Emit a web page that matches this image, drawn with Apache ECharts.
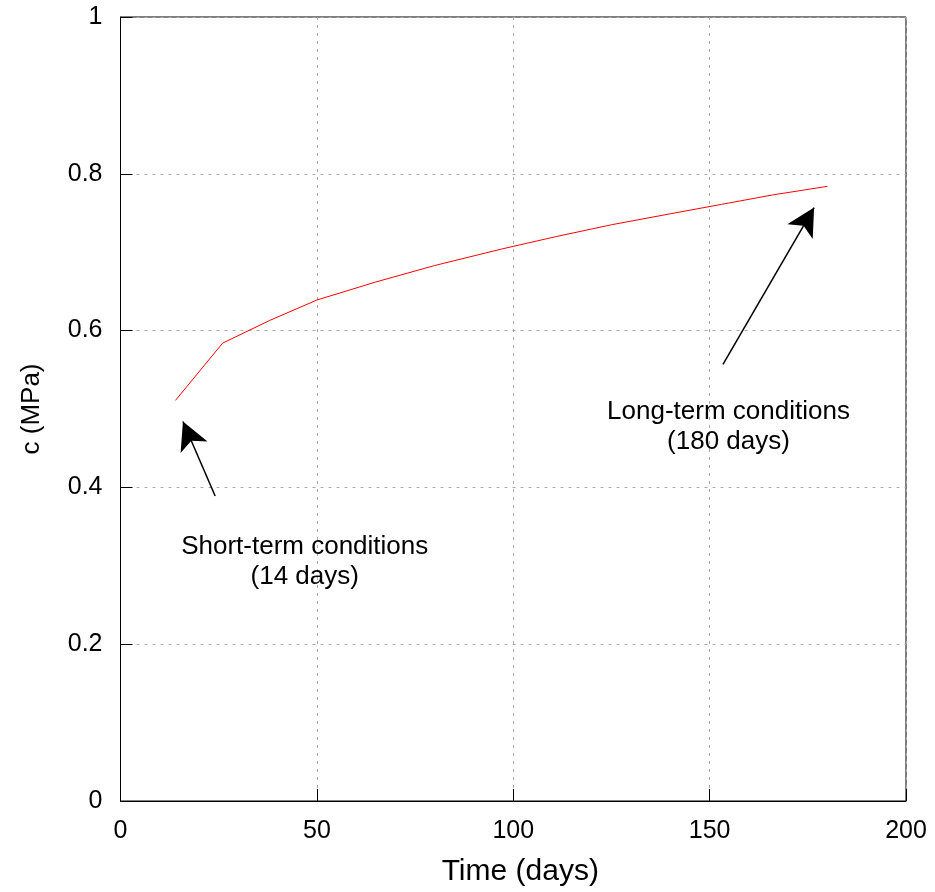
<!DOCTYPE html>
<html>
<head>
<meta charset="utf-8">
<script src="https://cdn.jsdelivr.net/npm/echarts@6/dist/echarts.min.js"></script>
<style>html,body{margin:0;padding:0;background:#fff}#c{width:935px;height:892px}</style>
</head>
<body>
<div id="c"></div>
<script>
const days = [14, 26, 38, 50, 65, 80, 97, 111, 125, 140, 153, 166, 180];
const cohesion = [0.511, 0.584, 0.613, 0.639, 0.662, 0.683, 0.704, 0.720, 0.735, 0.749, 0.761, 0.773, 0.784];
const xTicks = [0, 50, 100, 150, 200];
const yTicks = [0, 0.2, 0.4, 0.6, 0.8, 1];
const shortArrow = [[24.1, 0.389], [15.9, 0.484]];
const longArrow = [[153.4, 0.557], [176.6, 0.757]];
const shortText = ['Short-term conditions', '(14 days)'];
const longText = ['Long-term conditions', '(180 days)'];
const shortTextPos = [46.9, 0.305];
const longTextPos = [154.8, 0.477];

const font = '"Liberation Sans", Arial, sans-serif';
const chart = echarts.init(document.getElementById('c'), null, {renderer: 'canvas'});
const data = days.map((d, i) => [d, cohesion[i]]);
const gridLine = {show: true, lineStyle: {color: '#aaaaaa', type: [3, 5], width: 1}};
chart.setOption({
  animation: false,
  grid: {left: 120.5, right: 29, top: 17, bottom: 90, show: true, borderColor: '#000', borderWidth: 1},
  xAxis: {
    type: 'value', min: xTicks[0], max: xTicks[xTicks.length - 1], interval: 50,
    name: 'Time (days)', nameLocation: 'middle', nameGap: 56,
    nameTextStyle: {fontFamily: font, fontSize: 30, color: '#000', padding: [0, 0, 0, 14]},
    axisLine: {lineStyle: {color: '#000', width: 1}},
    axisTick: {show: true, inside: true, length: 12, lineStyle: {color: '#000'}},
    axisLabel: {fontFamily: font, fontSize: 25, color: '#000', margin: 18},
    splitLine: gridLine
  },
  yAxis: {
    type: 'value', min: yTicks[0], max: yTicks[yTicks.length - 1], interval: 0.2,
    name: 'c (MPa)', nameLocation: 'middle', nameGap: 76,
    nameTextStyle: {fontFamily: font, fontSize: 26, color: '#000'},
    axisLine: {lineStyle: {color: '#000', width: 1}},
    axisTick: {show: true, inside: true, length: 12, lineStyle: {color: '#000'}},
    axisLabel: {fontFamily: font, fontSize: 25, color: '#000', margin: 18},
    splitLine: gridLine
  },
  series: [{
    type: 'line', data: data, showSymbol: false, symbol: 'none',
    lineStyle: {color: '#ff0000', width: 1},
    markLine: {
      silent: true, symbol: ['none', 'arrow'], symbolSize: [22, 28],
      label: {show: false},
      lineStyle: {color: '#000', width: 1.5, type: 'solid'},
      data: [
        [{coord: shortArrow[0]}, {coord: shortArrow[1]}],
        [{coord: longArrow[0]}, {coord: longArrow[1]}]
      ]
    }
  }]
});
const p1 = chart.convertToPixel({gridIndex: 0}, shortTextPos);
const p2 = chart.convertToPixel({gridIndex: 0}, longTextPos);
chart.setOption({
  graphic: [
    {type: 'text', x: p1[0], y: p1[1], style: {text: shortText.join('\n'), font: '26px ' + font, fill: '#000', align: 'center', verticalAlign: 'middle', lineHeight: 30}},
    {type: 'text', x: p2[0], y: p2[1], style: {text: longText.join('\n'), font: '26px ' + font, fill: '#000', align: 'center', verticalAlign: 'middle', lineHeight: 30}}
  ]
});
</script>
</body>
</html>
